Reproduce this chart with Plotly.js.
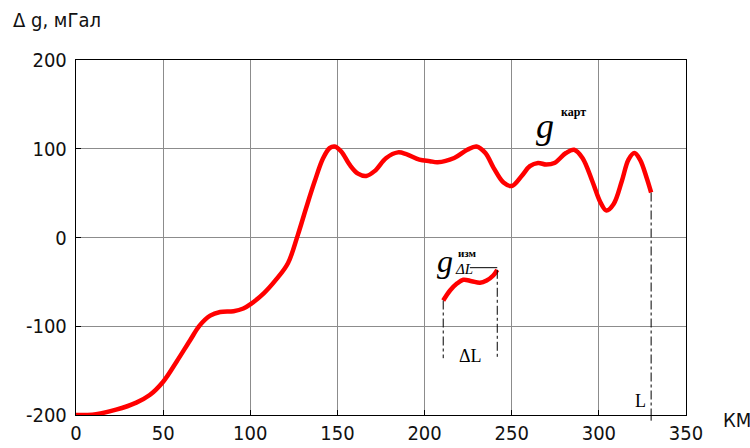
<!DOCTYPE html>
<html>
<head>
<meta charset="utf-8">
<script src="https://cdn.plot.ly/plotly-3.0.1.min.js"></script>
<style>html,body{margin:0;padding:0;background:#fff;}#chart{width:750px;height:448px;}</style>
</head>
<body>
<div id="chart"></div>
<script>
// Main curve g^карт
const xKart = [0, 11.5, 23, 34.6, 42.3, 50, 57.7, 65.4, 71, 77, 82.7, 90.4, 96, 100.6, 107.7, 115, 121.6, 127.3, 132, 136.9, 141.7, 145.5, 148.4, 152.2, 157, 161.8, 166.5, 171.3, 178, 184.7, 189.5, 197, 203, 207.5, 217, 224.5, 229.8, 234.9, 239.6, 245.3, 250, 255.7, 260.4, 265.1, 269.8, 274.5, 281.1, 285.8, 290.6, 296.2, 300.9, 304.3, 308.5, 313.2, 317, 320.4, 323.6, 327.4, 330];
const gKart = [-200, -199, -194, -186, -177.5, -162.5, -140, -116, -99, -88, -84, -83, -80, -74.5, -63, -47, -29, 3, 33, 63, 89, 100.7, 102.6, 97, 82, 71.9, 69.3, 74.8, 89.6, 95.9, 94, 87.8, 86, 84.8, 89.6, 98.9, 102.6, 95.2, 78.5, 61.9, 58, 69.3, 80.4, 84, 82.2, 84, 95.2, 98.9, 89.6, 63.7, 39.6, 30.4, 37.8, 63.7, 87.8, 95.2, 87.8, 67.4, 50.7];
// Measured segment g_ΔL^изм
const xIzm = [210.7, 214.6, 218.4, 222.2, 227, 231.8, 235.6, 239.4, 241.7];
const gIzm = [-71, -59.7, -52.2, -47.7, -49.2, -51, -48.4, -42.8, -36.4];
// Ticks
const xTicks = [0, 50, 100, 150, 200, 250, 300, 350];
const yTicks = [-200, -100, 0, 100, 200];
// Markers for ΔL and L
const dlStart = 210.7, dlEnd = 241.7, dlBottom = -136;
const Lpos = 330, Lval = 50.7;

const sans = '"DejaVu Sans Condensed", "Liberation Sans Narrow", "Arial Narrow", sans-serif';
const serif = '"Liberation Serif", "DejaVu Serif", "Times New Roman", serif';

const traces = [
  {x: xKart, y: gKart, type: 'scatter', mode: 'lines',
   line: {color: '#ff0000', width: 4.5, shape: 'spline', smoothing: 1}, hoverinfo: 'skip'},
  {x: xIzm, y: gIzm, type: 'scatter', mode: 'lines',
   line: {color: '#ff0000', width: 4.5, shape: 'spline', smoothing: 1}, hoverinfo: 'skip'}
];

const dash = {color: '#000', width: 1, dash: 'dashdot'};
const shapes = [
  {type: 'line', xref: 'x', yref: 'y', x0: dlStart, x1: dlStart, y0: gIzm[0], y1: dlBottom, line: dash},
  {type: 'line', xref: 'x', yref: 'y', x0: dlEnd, x1: dlEnd, y0: gIzm[gIzm.length-1], y1: dlBottom, line: dash},
  {type: 'line', xref: 'x', yref: 'y', x0: Lpos, x1: Lpos, y0: Lval, y1: -200, line: dash},
  {type: 'line', xref: 'x', yref: 'paper', x0: Lpos, x1: Lpos, y0: 0, y1: -0.016, line: dash},
  {type: 'line', xref: 'x', yref: 'y', x0: 226, x1: dlEnd, y0: -34, y1: -34, line: {color: '#000', width: 1}}
];

const annotations = [
  {xref: 'paper', yref: 'paper', x: -0.107, y: 1.113, xanchor: 'left', yanchor: 'middle', showarrow: false,
   text: 'Δ g, мГал', font: {family: sans, size: 20, color: '#111'}},
  {xref: 'paper', yref: 'paper', x: 1.057, y: -0.014, xanchor: 'left', yanchor: 'middle', showarrow: false,
   text: 'КМ', font: {family: sans, size: 20, color: '#111'}},
  {xref: 'x', yref: 'y', x: 269, y: 126, xanchor: 'center', yanchor: 'middle', showarrow: false,
   text: '<i>g</i>', font: {family: serif, size: 36, color: '#000'}},
  {xref: 'x', yref: 'y', x: 277, y: 141, xanchor: 'left', yanchor: 'middle', showarrow: false,
   text: '<b>карт</b>', font: {family: serif, size: 12, color: '#000'}},
  {xref: 'x', yref: 'y', x: 211.5, y: -27, xanchor: 'center', yanchor: 'middle', showarrow: false,
   text: '<i>g</i>', font: {family: serif, size: 32, color: '#000'}},
  {xref: 'x', yref: 'y', x: 216.5, y: -35, xanchor: 'left', yanchor: 'middle', showarrow: false,
   text: '<i>ΔL</i>', font: {family: serif, size: 15, color: '#000'}},
  {xref: 'x', yref: 'y', x: 218, y: -17, xanchor: 'left', yanchor: 'middle', showarrow: false,
   text: '<b>изм</b>', font: {family: serif, size: 11, color: '#000'}},
  {xref: 'x', yref: 'y', x: (dlStart + dlEnd) / 2, y: -133, xanchor: 'center', yanchor: 'middle', showarrow: false,
   text: 'ΔL', font: {family: serif, size: 18, color: '#000'}},
  {xref: 'x', yref: 'y', x: 324, y: -184, xanchor: 'center', yanchor: 'middle', showarrow: false,
   text: 'L', font: {family: serif, size: 18, color: '#000'}}
];

const axisCommon = {
  showgrid: true, gridcolor: '#8c8c8c', gridwidth: 1,
  showline: true, linecolor: '#000', linewidth: 1.2, mirror: true,
  ticks: 'inside', ticklen: 5, tickcolor: '#000', tickwidth: 1,
  zeroline: false, tickmode: 'array',
  tickfont: {family: sans, size: 20, color: '#111'}
};

const layout = {
  width: 750, height: 448,
  margin: {l: 76, r: 64, t: 60, b: 33, pad: 0},
  paper_bgcolor: '#fff', plot_bgcolor: '#fff',
  showlegend: false,
  xaxis: Object.assign({}, axisCommon, {range: [0, 350], tickvals: xTicks, ticktext: xTicks.map(String), ticklabelstandoff: 0}),
  yaxis: Object.assign({}, axisCommon, {range: [-200, 200], tickvals: yTicks, ticktext: yTicks.map(v => v < 0 ? '-' + Math.abs(v) : String(v)), ticklabelstandoff: 4}),
  shapes: shapes,
  annotations: annotations
};

Plotly.newPlot('chart', traces, layout, {staticPlot: true, displayModeBar: false});
</script>
</body>
</html>
